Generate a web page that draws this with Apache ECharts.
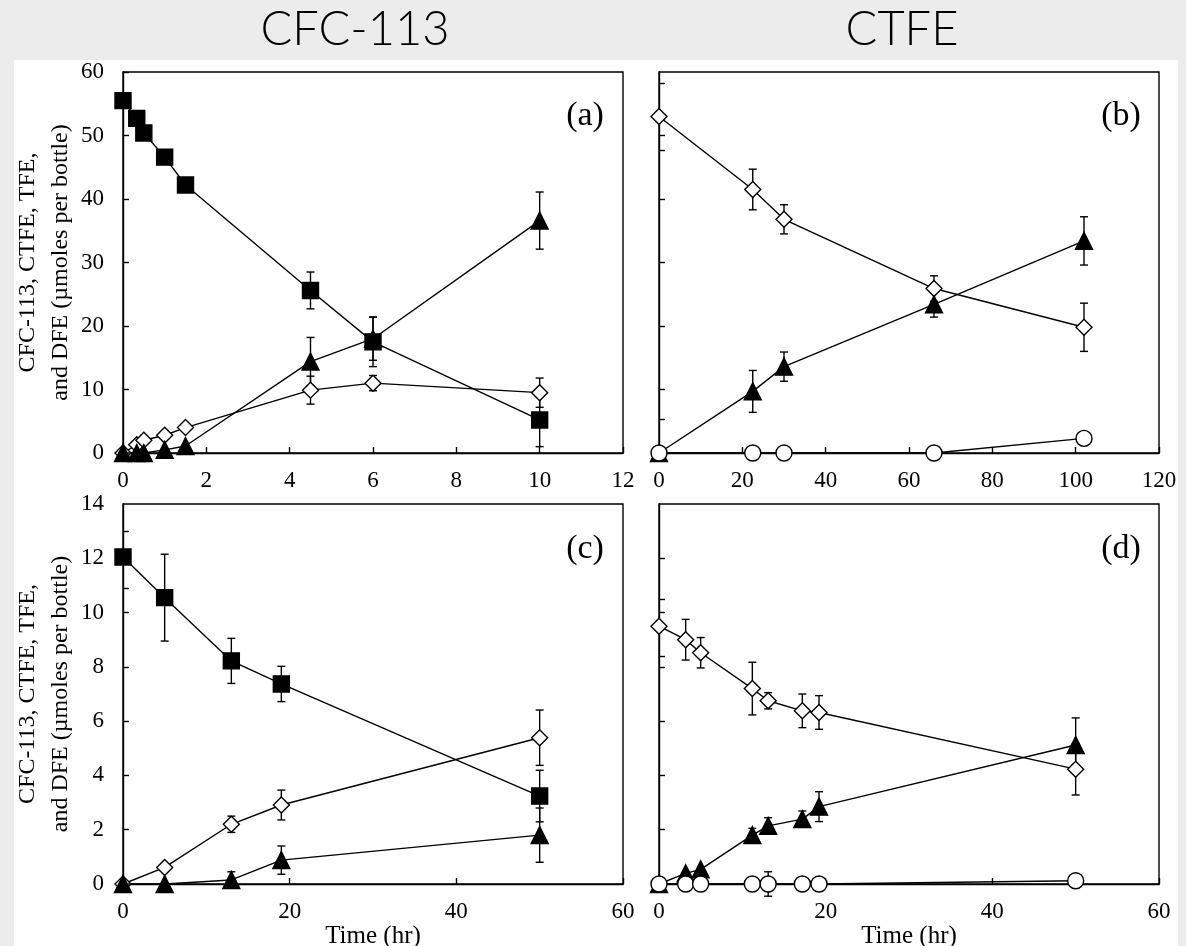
<!DOCTYPE html>
<html>
<head>
<meta charset="utf-8">
<script src="https://cdn.jsdelivr.net/npm/echarts@6/dist/echarts.min.js"></script>
<style>
  html, body { margin: 0; padding: 0; background: #ececec; }
  #sheet { position: absolute; left: 14px; top: 60px; width: 1164px; height: 886px; background: #fff; }
  #chart { position: absolute; left: 0; top: 0; width: 1186px; height: 946px; }
</style>
</head>
<body>
<div id="sheet"></div>
<div id="chart"></div>
<script>
// (a) CFC-113 incubation, short run
const timeA = [0, 0.33, 0.5, 1, 1.5, 4.5, 6, 10]
const cfcA = [55.5, 52.7, 50.4, 46.6, 42.2, 25.6, 17.5, 5.2]
const cfcAErr = [0, 0, 0, 0, 0, 2.9, 3.9, 4.2]
const ctfeA = [0, 1.3, 2.0, 2.8, 4.0, 9.9, 11.0, 9.5]
const ctfeAErr = [0, 0, 0, 0, 0, 2.2, 1.2, 2.3]
const tfeA = [0, 0, 0, 0.5, 1.1, 14.4, 18.0, 36.6]
const tfeAErr = [0, 0, 0, 0, 0, 3.8, 3.4, 4.5]

// (b) CTFE incubation, short run
const timeB = [0, 22.5, 30, 66, 102]
const ctfeB = [53.0, 41.5, 36.8, 25.9, 19.8]
const ctfeBErr = [0, 3.2, 2.3, 2.0, 3.8]
const tfeB = [0, 9.7, 13.6, 23.4, 33.4]
const tfeBErr = [0, 3.3, 2.3, 2.0, 3.8]
const dfeB = [0, 0, 0, 0, 2.3]

// (c) CFC-113 incubation, long run
const timeC = [0, 5, 13, 19, 50]
const cfcC = [12.05, 10.55, 8.22, 7.37, 3.24]
const cfcCErr = [0, 1.6, 0.83, 0.65, 0.95]
const ctfeC = [0, 0.61, 2.2, 2.91, 5.39]
const ctfeCErr = [0, 0, 0.3, 0.55, 1.02]
const tfeC = [0, 0, 0.15, 0.88, 1.8]
const tfeCErr = [0, 0, 0.3, 0.52, 1.0]

// (d) CTFE incubation, long run
const timeD = [0, 3.2, 5, 11.2, 13.1, 17.2, 19.2, 50]
const ctfeD = [9.5, 9.0, 8.52, 7.2, 6.75, 6.38, 6.32, 4.23]
const ctfeDErr = [0, 0.75, 0.56, 0.97, 0.3, 0.62, 0.62, 0.95]
const tfeD = [0, 0.39, 0.54, 1.8, 2.14, 2.39, 2.85, 5.12]
const tfeDErr = [0, 0, 0, 0.25, 0.3, 0.3, 0.55, 1.0]
const dfeD = [0, 0, 0, 0, 0, 0, 0, 0.12]
const dfeDErr = [0, 0, 0, 0, 0.45, 0, 0, 0]

// odd tick positions left on the right-hand y axes and on (c)
const ticksB = [5.3, 10, 20, 30, 40, 47.7, 50, 58.3]
const ticksC = [2, 4, 6, 8, 10, 10.9, 12, 13]
const ticksD = [2, 4, 6, 8, 8.4, 10, 10.5, 12]

const yName = 'CFC-113, CTFE, TFE,\nand DFE (µmoles per bottle)'
const panelTitles = ['CFC-113', 'CTFE']
const panelTags = ['(a)', '(b)', '(c)', '(d)']

const serif = 'Liberation Serif'
const black = '#000'

const grids = [
  { left: 123, top: 72, width: 500, height: 381 },
  { left: 659, top: 72, width: 500, height: 381 },
  { left: 123, top: 504, width: 500, height: 380 },
  { left: 659, top: 504, width: 500, height: 380 },
].map(g => ({
  ...g, show: true, borderColor: black, borderWidth: 1.4, backgroundColor: 'transparent',
  containLabel: false, outerBoundsMode: 'none',
}))

const xAxis = (gi, max, interval, name) => ({
  type: 'value', gridIndex: gi, min: 0, max, interval,
  name: name || '', nameLocation: 'middle', nameGap: 38,
  nameTextStyle: { fontFamily: serif, fontSize: 25, color: black },
  axisLine: { show: true, onZero: false, lineStyle: { color: black, width: 1.4 } },
  axisTick: { show: true, inside: true, length: 6, lineStyle: { color: black, width: 1.4 } },
  axisLabel: { fontFamily: serif, fontSize: 23, color: black, margin: 16 },
  splitLine: { show: false },
})

const yAxis = (gi, max, interval, showLabels, ticks) => ({
  type: 'value', gridIndex: gi, min: 0, max, interval,
  name: showLabels ? yName : '', nameLocation: 'middle', nameGap: 46, nameRotate: 90,
  nameTextStyle: { fontFamily: serif, fontSize: 24, lineHeight: 33, color: black, align: 'center' },
  axisLine: { show: true, onZero: false, lineStyle: { color: black, width: 1.4 } },
  axisTick: { show: true, inside: true, length: 6, lineStyle: { color: black, width: 1.4 },
    ...(ticks ? { customValues: ticks } : {}) },
  axisLabel: { show: showLabels, fontFamily: serif, fontSize: 23, color: black, margin: 19 },
  splitLine: { show: false },
})

const lineSeries = (gi, t, v, symbol, filled, size, z) => ({
  type: 'line', xAxisIndex: gi, yAxisIndex: gi,
  data: t.map((x, i) => [x, v[i]]),
  symbol, symbolSize: size, showAllSymbol: true, clip: false,
  lineStyle: { color: black, width: 1.4 },
  itemStyle: { color: filled ? black : '#fff', borderColor: black, borderWidth: 1.4 },
  emphasis: { disabled: true },
  z,
})

const errBars = (gi, sets) => ({
  type: 'custom', xAxisIndex: gi, yAxisIndex: gi, z: 1, silent: true,
  data: sets.flatMap(([t, v, e]) => t.map((x, i) => [x, v[i] - e[i], v[i] + e[i]]).filter((d, i) => e[i] > 0)),
  renderItem: (params, api) => {
    const top = api.coord([api.value(0), api.value(2)])
    const bot = api.coord([api.value(0), api.value(1)])
    const w = 4
    const style = { stroke: black, lineWidth: 1.4 }
    return {
      type: 'group',
      children: [
        { type: 'line', shape: { x1: top[0], y1: top[1], x2: bot[0], y2: bot[1] }, style },
        { type: 'line', shape: { x1: top[0] - w, y1: top[1], x2: top[0] + w, y2: top[1] }, style },
        { type: 'line', shape: { x1: bot[0] - w, y1: bot[1], x2: bot[0] + w, y2: bot[1] }, style },
      ],
    }
  },
})

const textEl = (text, x, y, font) => ({
  type: 'text', x, y, z: 10,
  style: { text, font, fill: black, textAlign: 'center', textVerticalAlign: 'middle' },
})

const chart = echarts.init(document.getElementById('chart'))
chart.setOption({
  animation: false,
  backgroundColor: 'transparent',
  grid: grids,
  xAxis: [xAxis(0, 12, 2), xAxis(1, 120, 20), xAxis(2, 60, 20, 'Time (hr)'), xAxis(3, 60, 20, 'Time (hr)')],
  yAxis: [yAxis(0, 60, 10, true), yAxis(1, 60, 10, false, ticksB), yAxis(2, 14, 2, true, ticksC), yAxis(3, 14, 2, false, ticksD)],
  graphic: [
    textEl(panelTitles[0], 355, 30, '300 47px Lato'),
    textEl(panelTitles[1], 902, 30, '300 47px Lato'),
    textEl(panelTags[0], 585, 116, '34px "Liberation Serif"'),
    textEl(panelTags[1], 1121, 116, '34px "Liberation Serif"'),
    textEl(panelTags[2], 585, 549, '34px "Liberation Serif"'),
    textEl(panelTags[3], 1121, 549, '34px "Liberation Serif"'),
  ],
  series: [
    errBars(0, [[timeA, cfcA, cfcAErr], [timeA, ctfeA, ctfeAErr], [timeA, tfeA, tfeAErr]]),
    lineSeries(0, timeA, ctfeA, 'diamond', false, 16, 3),
    lineSeries(0, timeA, tfeA, 'triangle', true, 17, 4),
    lineSeries(0, timeA, cfcA, 'rect', true, 16, 5),

    errBars(1, [[timeB, ctfeB, ctfeBErr], [timeB, tfeB, tfeBErr]]),
    lineSeries(1, timeB, ctfeB, 'diamond', false, 16, 3),
    lineSeries(1, timeB, tfeB, 'triangle', true, 17, 4),
    lineSeries(1, timeB, dfeB, 'circle', false, 16, 5),

    errBars(2, [[timeC, cfcC, cfcCErr], [timeC, ctfeC, ctfeCErr], [timeC, tfeC, tfeCErr]]),
    lineSeries(2, timeC, ctfeC, 'diamond', false, 16, 3),
    lineSeries(2, timeC, tfeC, 'triangle', true, 17, 4),
    lineSeries(2, timeC, cfcC, 'rect', true, 16, 5),

    errBars(3, [[timeD, ctfeD, ctfeDErr], [timeD, tfeD, tfeDErr], [timeD, dfeD, dfeDErr]]),
    lineSeries(3, timeD, ctfeD, 'diamond', false, 16, 3),
    lineSeries(3, timeD, tfeD, 'triangle', true, 17, 4),
    lineSeries(3, timeD, dfeD, 'circle', false, 16, 5),
  ],
})
</script>
</body>
</html>
